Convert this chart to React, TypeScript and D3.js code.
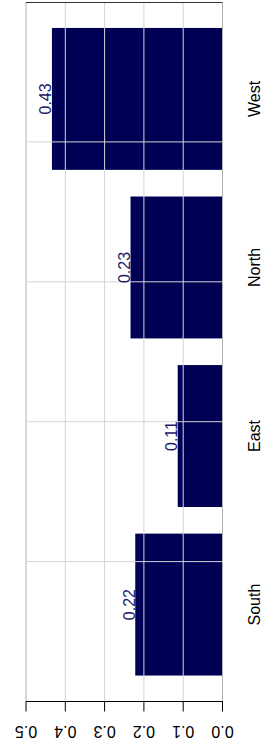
import React from "react";
import * as d3 from "d3";

const categories = ["South", "East", "North", "West"];
const values = [0.222, 0.114, 0.234, 0.434];
const valueTicks = [0, 0.1, 0.2, 0.3, 0.4, 0.5];

const W = 262;
const H = 747;
const FONT = "'Liberation Sans', Arial, Helvetica, sans-serif";
const BAR = "#000055";
const FS = 16;

export default function App() {
  const x = d3.scaleLinear().domain([0, 0.5]).range([222.5, 26]);
  const top = 2;
  const bottom = 701.5;
  const y = d3
    .scaleBand<string>()
    .domain([...categories].reverse())
    .range([top, bottom])
    .paddingInner(0.158)
    .paddingOuter(0.154);
  const gy = d3.scaleLinear().domain([0, 5]).range([top, bottom]);
  const hGrid = d3.range(1, 5).map((i) => gy(i));
  const fmt = d3.format(".2f");
  const tickFmt = d3.format(".1f");

  return (
    <svg
      width={W}
      height={H}
      style={{ position: "absolute", left: 0, top: 0, background: "#fff" }}
    >
      {/* bars */}
      {categories.map((c, i) => (
        <rect
          key={c}
          x={x(values[i])}
          y={y(c)}
          width={x(0) - x(values[i])}
          height={y.bandwidth()}
          fill={BAR}
        />
      ))}
      {/* grid on top */}
      {valueTicks.map((t, i) => (
        <line
          key={"v" + t}
          x1={x(t)}
          x2={x(t)}
          y1={top}
          y2={bottom}
          stroke={i === 0 || i === valueTicks.length - 1 ? "#b0b0b0" : "#d4d4d4"}
          strokeWidth={1}
        />
      ))}
      {hGrid.map((g) => (
        <line
          key={"h" + g}
          x1={x(0.5)}
          x2={x(0)}
          y1={g}
          y2={g}
          stroke="#d4d4d4"
          strokeWidth={1}
        />
      ))}
      {/* top frame line */}
      <line x1={x(0.5)} x2={x(0)} y1={2.5} y2={2.5} stroke="#333" strokeWidth={1.2} />
      {/* bottom axis */}
      <line x1={x(0.5)} x2={x(0) + 0.5} y1={bottom} y2={bottom} stroke="#000" strokeWidth={1} />
      {valueTicks.map((t) => (
        <g key={"t" + t}>
          <line x1={x(t)} x2={x(t)} y1={bottom} y2={bottom + 10} stroke="#000" strokeWidth={1} />
          <text
            transform={`translate(${x(t)},${bottom + 24.5}) rotate(180)`}
            textAnchor="middle"
            fontFamily={FONT}
            fontSize={FS}
            fill="#000"
          >
            {tickFmt(t)}
          </text>
        </g>
      ))}
      {/* value labels */}
      {categories.map((c, i) => (
        <text
          key={"l" + c}
          transform={`translate(${x(values[i]) - 0.5},${(y(c) as number) + y.bandwidth() / 2}) rotate(-90)`}
          textAnchor="middle"
          fontFamily={FONT}
          fontSize={FS}
          fill="#1a1a6a"
        >
          {fmt(values[i])}
        </text>
      ))}
      {/* category labels */}
      {categories.map((c) => (
        <text
          key={"c" + c}
          transform={`translate(259.5,${(y(c) as number) + y.bandwidth() / 2}) rotate(-90)`}
          textAnchor="middle"
          fontFamily={FONT}
          fontSize={FS}
          fill="#000"
        >
          {c}
        </text>
      ))}
    </svg>
  );
}
